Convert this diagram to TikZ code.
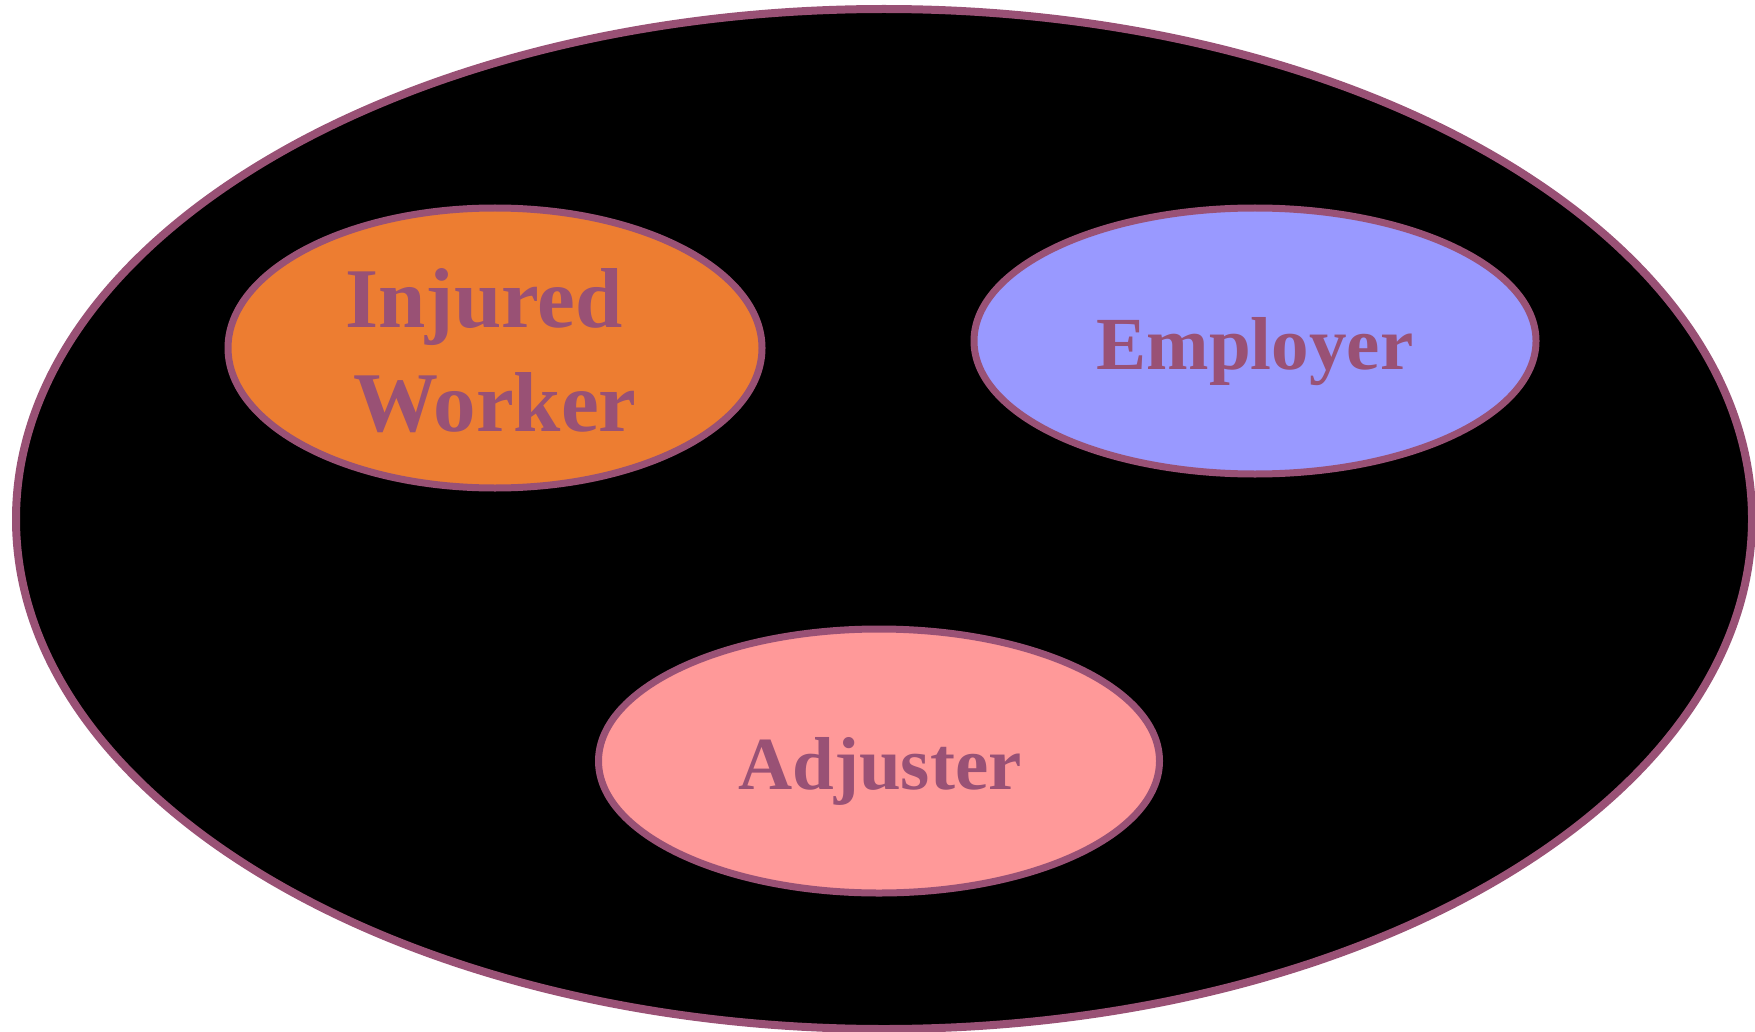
\documentclass[tikz,border=0pt]{standalone}
\usepackage{fontspec}
\setmainfont{Liberation Serif}
\usetikzlibrary{shapes.geometric}
\definecolor{edgepurple}{HTML}{995175}
\definecolor{worker}{HTML}{ED7D31}
\definecolor{employer}{HTML}{9999FF}
\definecolor{adjuster}{HTML}{FF9999}
\tikzset{
  outer/.style={ellipse, draw=edgepurple, line width=8pt, fill=black, inner sep=0pt},
  party/.style={ellipse, draw=edgepurple, line width=7pt, inner sep=0pt},
  partytext/.style={inner sep=0pt, align=center, text=edgepurple,
    font=\fontsize{75}{104}\selectfont\bfseries}
}
\begin{document}
\begin{tikzpicture}[x=1pt,y=1pt]
\useasboundingbox (0,0) rectangle (1755,-1032);
\node[outer, minimum width=1736pt, minimum height=1020pt] (world) at (884,-519) {};
\node[party, fill=worker, minimum width=534pt, minimum height=280pt] (worker) at (495,-348) {};
\node[party, fill=employer, minimum width=562pt, minimum height=266pt] (employer) at (1255,-341) {};
\node[party, fill=adjuster, minimum width=561pt, minimum height=264pt] (adjuster) at (879,-761) {};
\node[partytext, font=\fontsize{85}{104}\selectfont\bfseries] (workertext) at (495,-351) {Injured\hspace*{22pt}\\Worker};
\node[partytext, anchor=base] (employertext) at (1255,-369) {Employer};
\node[partytext, anchor=base] (adjustertext) at (880,-789) {Adjuster};
\end{tikzpicture}
\end{document}
